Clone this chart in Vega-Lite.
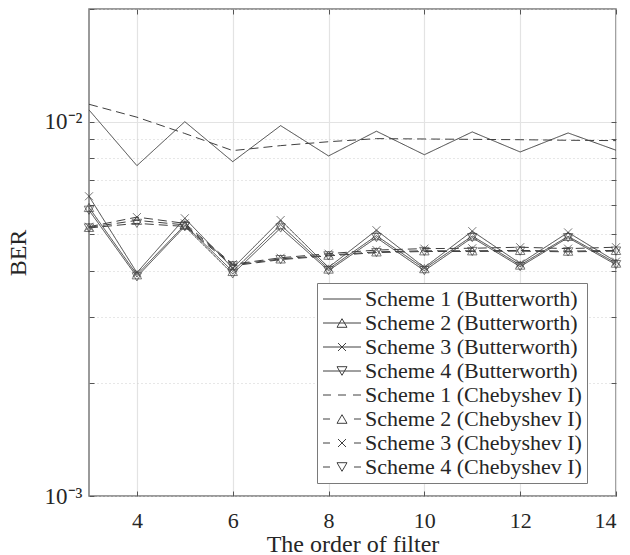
{
  "$schema": "https://vega.github.io/schema/vega-lite/v6.json",
  "width": 527,
  "height": 487,
  "autosize": {"type": "none"},
  "padding": {"left": 89, "top": 9, "right": 14, "bottom": 59},
  "background": "white",
  "config": {
    "view": {"stroke": "#7a7a7a", "strokeWidth": 1.5},
    "font": "Liberation Serif",
    "axis": {"domain": false, "labelFont": "Liberation Serif", "titleFont": "Liberation Serif", "labelColor": "#262626", "titleColor": "#262626", "tickColor": "#555555", "titleFontWeight": "normal"}
  },
  "data": {"values": [
    {"x":3,"ber":0.01075,"series":"Scheme 1 (Butterworth)","filter":"Butterworth","scheme":1},
    {"x":4,"ber":0.00763,"series":"Scheme 1 (Butterworth)","filter":"Butterworth","scheme":1},
    {"x":5,"ber":0.0100,"series":"Scheme 1 (Butterworth)","filter":"Butterworth","scheme":1},
    {"x":6,"ber":0.00782,"series":"Scheme 1 (Butterworth)","filter":"Butterworth","scheme":1},
    {"x":7,"ber":0.00976,"series":"Scheme 1 (Butterworth)","filter":"Butterworth","scheme":1},
    {"x":8,"ber":0.00810,"series":"Scheme 1 (Butterworth)","filter":"Butterworth","scheme":1},
    {"x":9,"ber":0.00943,"series":"Scheme 1 (Butterworth)","filter":"Butterworth","scheme":1},
    {"x":10,"ber":0.00816,"series":"Scheme 1 (Butterworth)","filter":"Butterworth","scheme":1},
    {"x":11,"ber":0.00939,"series":"Scheme 1 (Butterworth)","filter":"Butterworth","scheme":1},
    {"x":12,"ber":0.00830,"series":"Scheme 1 (Butterworth)","filter":"Butterworth","scheme":1},
    {"x":13,"ber":0.00933,"series":"Scheme 1 (Butterworth)","filter":"Butterworth","scheme":1},
    {"x":14,"ber":0.00839,"series":"Scheme 1 (Butterworth)","filter":"Butterworth","scheme":1},
    {"x":3,"ber":0.0059,"series":"Scheme 2 (Butterworth)","filter":"Butterworth","scheme":2},
    {"x":4,"ber":0.0039,"series":"Scheme 2 (Butterworth)","filter":"Butterworth","scheme":2},
    {"x":5,"ber":0.0053,"series":"Scheme 2 (Butterworth)","filter":"Butterworth","scheme":2},
    {"x":6,"ber":0.00398,"series":"Scheme 2 (Butterworth)","filter":"Butterworth","scheme":2},
    {"x":7,"ber":0.0053,"series":"Scheme 2 (Butterworth)","filter":"Butterworth","scheme":2},
    {"x":8,"ber":0.00404,"series":"Scheme 2 (Butterworth)","filter":"Butterworth","scheme":2},
    {"x":9,"ber":0.00496,"series":"Scheme 2 (Butterworth)","filter":"Butterworth","scheme":2},
    {"x":10,"ber":0.00405,"series":"Scheme 2 (Butterworth)","filter":"Butterworth","scheme":2},
    {"x":11,"ber":0.00495,"series":"Scheme 2 (Butterworth)","filter":"Butterworth","scheme":2},
    {"x":12,"ber":0.00414,"series":"Scheme 2 (Butterworth)","filter":"Butterworth","scheme":2},
    {"x":13,"ber":0.00494,"series":"Scheme 2 (Butterworth)","filter":"Butterworth","scheme":2},
    {"x":14,"ber":0.00419,"series":"Scheme 2 (Butterworth)","filter":"Butterworth","scheme":2},
    {"x":3,"ber":0.00632,"series":"Scheme 3 (Butterworth)","filter":"Butterworth","scheme":3},
    {"x":4,"ber":0.00395,"series":"Scheme 3 (Butterworth)","filter":"Butterworth","scheme":3},
    {"x":5,"ber":0.00552,"series":"Scheme 3 (Butterworth)","filter":"Butterworth","scheme":3},
    {"x":6,"ber":0.00406,"series":"Scheme 3 (Butterworth)","filter":"Butterworth","scheme":3},
    {"x":7,"ber":0.00546,"series":"Scheme 3 (Butterworth)","filter":"Butterworth","scheme":3},
    {"x":8,"ber":0.00408,"series":"Scheme 3 (Butterworth)","filter":"Butterworth","scheme":3},
    {"x":9,"ber":0.00513,"series":"Scheme 3 (Butterworth)","filter":"Butterworth","scheme":3},
    {"x":10,"ber":0.00408,"series":"Scheme 3 (Butterworth)","filter":"Butterworth","scheme":3},
    {"x":11,"ber":0.0051,"series":"Scheme 3 (Butterworth)","filter":"Butterworth","scheme":3},
    {"x":12,"ber":0.00418,"series":"Scheme 3 (Butterworth)","filter":"Butterworth","scheme":3},
    {"x":13,"ber":0.00506,"series":"Scheme 3 (Butterworth)","filter":"Butterworth","scheme":3},
    {"x":14,"ber":0.00423,"series":"Scheme 3 (Butterworth)","filter":"Butterworth","scheme":3},
    {"x":3,"ber":0.0058,"series":"Scheme 4 (Butterworth)","filter":"Butterworth","scheme":4},
    {"x":4,"ber":0.00385,"series":"Scheme 4 (Butterworth)","filter":"Butterworth","scheme":4},
    {"x":5,"ber":0.00525,"series":"Scheme 4 (Butterworth)","filter":"Butterworth","scheme":4},
    {"x":6,"ber":0.00392,"series":"Scheme 4 (Butterworth)","filter":"Butterworth","scheme":4},
    {"x":7,"ber":0.0052,"series":"Scheme 4 (Butterworth)","filter":"Butterworth","scheme":4},
    {"x":8,"ber":0.0040,"series":"Scheme 4 (Butterworth)","filter":"Butterworth","scheme":4},
    {"x":9,"ber":0.0049,"series":"Scheme 4 (Butterworth)","filter":"Butterworth","scheme":4},
    {"x":10,"ber":0.0040,"series":"Scheme 4 (Butterworth)","filter":"Butterworth","scheme":4},
    {"x":11,"ber":0.0049,"series":"Scheme 4 (Butterworth)","filter":"Butterworth","scheme":4},
    {"x":12,"ber":0.0041,"series":"Scheme 4 (Butterworth)","filter":"Butterworth","scheme":4},
    {"x":13,"ber":0.0049,"series":"Scheme 4 (Butterworth)","filter":"Butterworth","scheme":4},
    {"x":14,"ber":0.00415,"series":"Scheme 4 (Butterworth)","filter":"Butterworth","scheme":4},
    {"x":3,"ber":0.01113,"series":"Scheme 1 (Chebyshev I)","filter":"Chebyshev I","scheme":1},
    {"x":4,"ber":0.01028,"series":"Scheme 1 (Chebyshev I)","filter":"Chebyshev I","scheme":1},
    {"x":5,"ber":0.0093,"series":"Scheme 1 (Chebyshev I)","filter":"Chebyshev I","scheme":1},
    {"x":6,"ber":0.00837,"series":"Scheme 1 (Chebyshev I)","filter":"Chebyshev I","scheme":1},
    {"x":7,"ber":0.00863,"series":"Scheme 1 (Chebyshev I)","filter":"Chebyshev I","scheme":1},
    {"x":8,"ber":0.00884,"series":"Scheme 1 (Chebyshev I)","filter":"Chebyshev I","scheme":1},
    {"x":9,"ber":0.00901,"series":"Scheme 1 (Chebyshev I)","filter":"Chebyshev I","scheme":1},
    {"x":10,"ber":0.00899,"series":"Scheme 1 (Chebyshev I)","filter":"Chebyshev I","scheme":1},
    {"x":11,"ber":0.00897,"series":"Scheme 1 (Chebyshev I)","filter":"Chebyshev I","scheme":1},
    {"x":12,"ber":0.00895,"series":"Scheme 1 (Chebyshev I)","filter":"Chebyshev I","scheme":1},
    {"x":13,"ber":0.00892,"series":"Scheme 1 (Chebyshev I)","filter":"Chebyshev I","scheme":1},
    {"x":14,"ber":0.0089,"series":"Scheme 1 (Chebyshev I)","filter":"Chebyshev I","scheme":1},
    {"x":3,"ber":0.00522,"series":"Scheme 2 (Chebyshev I)","filter":"Chebyshev I","scheme":2},
    {"x":4,"ber":0.00545,"series":"Scheme 2 (Chebyshev I)","filter":"Chebyshev I","scheme":2},
    {"x":5,"ber":0.0053,"series":"Scheme 2 (Chebyshev I)","filter":"Chebyshev I","scheme":2},
    {"x":6,"ber":0.00414,"series":"Scheme 2 (Chebyshev I)","filter":"Chebyshev I","scheme":2},
    {"x":7,"ber":0.0043,"series":"Scheme 2 (Chebyshev I)","filter":"Chebyshev I","scheme":2},
    {"x":8,"ber":0.0044,"series":"Scheme 2 (Chebyshev I)","filter":"Chebyshev I","scheme":2},
    {"x":9,"ber":0.00449,"series":"Scheme 2 (Chebyshev I)","filter":"Chebyshev I","scheme":2},
    {"x":10,"ber":0.00452,"series":"Scheme 2 (Chebyshev I)","filter":"Chebyshev I","scheme":2},
    {"x":11,"ber":0.00452,"series":"Scheme 2 (Chebyshev I)","filter":"Chebyshev I","scheme":2},
    {"x":12,"ber":0.00453,"series":"Scheme 2 (Chebyshev I)","filter":"Chebyshev I","scheme":2},
    {"x":13,"ber":0.00451,"series":"Scheme 2 (Chebyshev I)","filter":"Chebyshev I","scheme":2},
    {"x":14,"ber":0.00453,"series":"Scheme 2 (Chebyshev I)","filter":"Chebyshev I","scheme":2},
    {"x":3,"ber":0.00524,"series":"Scheme 3 (Chebyshev I)","filter":"Chebyshev I","scheme":3},
    {"x":4,"ber":0.00556,"series":"Scheme 3 (Chebyshev I)","filter":"Chebyshev I","scheme":3},
    {"x":5,"ber":0.00535,"series":"Scheme 3 (Chebyshev I)","filter":"Chebyshev I","scheme":3},
    {"x":6,"ber":0.00416,"series":"Scheme 3 (Chebyshev I)","filter":"Chebyshev I","scheme":3},
    {"x":7,"ber":0.00433,"series":"Scheme 3 (Chebyshev I)","filter":"Chebyshev I","scheme":3},
    {"x":8,"ber":0.00444,"series":"Scheme 3 (Chebyshev I)","filter":"Chebyshev I","scheme":3},
    {"x":9,"ber":0.00454,"series":"Scheme 3 (Chebyshev I)","filter":"Chebyshev I","scheme":3},
    {"x":10,"ber":0.00458,"series":"Scheme 3 (Chebyshev I)","filter":"Chebyshev I","scheme":3},
    {"x":11,"ber":0.00459,"series":"Scheme 3 (Chebyshev I)","filter":"Chebyshev I","scheme":3},
    {"x":12,"ber":0.00462,"series":"Scheme 3 (Chebyshev I)","filter":"Chebyshev I","scheme":3},
    {"x":13,"ber":0.00458,"series":"Scheme 3 (Chebyshev I)","filter":"Chebyshev I","scheme":3},
    {"x":14,"ber":0.00462,"series":"Scheme 3 (Chebyshev I)","filter":"Chebyshev I","scheme":3},
    {"x":3,"ber":0.0052,"series":"Scheme 4 (Chebyshev I)","filter":"Chebyshev I","scheme":4},
    {"x":4,"ber":0.00535,"series":"Scheme 4 (Chebyshev I)","filter":"Chebyshev I","scheme":4},
    {"x":5,"ber":0.00525,"series":"Scheme 4 (Chebyshev I)","filter":"Chebyshev I","scheme":4},
    {"x":6,"ber":0.00412,"series":"Scheme 4 (Chebyshev I)","filter":"Chebyshev I","scheme":4},
    {"x":7,"ber":0.00428,"series":"Scheme 4 (Chebyshev I)","filter":"Chebyshev I","scheme":4},
    {"x":8,"ber":0.00438,"series":"Scheme 4 (Chebyshev I)","filter":"Chebyshev I","scheme":4},
    {"x":9,"ber":0.00447,"series":"Scheme 4 (Chebyshev I)","filter":"Chebyshev I","scheme":4},
    {"x":10,"ber":0.0045,"series":"Scheme 4 (Chebyshev I)","filter":"Chebyshev I","scheme":4},
    {"x":11,"ber":0.0045,"series":"Scheme 4 (Chebyshev I)","filter":"Chebyshev I","scheme":4},
    {"x":12,"ber":0.00451,"series":"Scheme 4 (Chebyshev I)","filter":"Chebyshev I","scheme":4},
    {"x":13,"ber":0.00449,"series":"Scheme 4 (Chebyshev I)","filter":"Chebyshev I","scheme":4},
    {"x":14,"ber":0.00451,"series":"Scheme 4 (Chebyshev I)","filter":"Chebyshev I","scheme":4}
  ]},
  "resolve": {"axis": {"x": "independent", "y": "independent"}},
  "layer": [
    {
      "mark": {"type": "line", "color": "#404040", "strokeWidth": 1},
      "encoding": {
        "x": {"field": "x", "type": "quantitative",
          "scale": {"domain": [3, 14], "nice": false, "zero": false},
          "axis": {"orient": "bottom", "values": [4, 6, 8, 10, 12, 14], "title": "The order of filter",
            "labelFontSize": 22, "titleFontSize": 24, "tickSize": -5, "labelPadding": 19, "titlePadding": 1,
            "grid": true, "gridColor": "#e3e3e3", "gridWidth": 1.2}},
        "y": {"field": "ber", "type": "quantitative",
          "scale": {"type": "log", "domain": [0.001, 0.02], "nice": false},
          "axis": {"orient": "left", "values": [0.001, 0.002, 0.003, 0.004, 0.005, 0.006, 0.007, 0.008, 0.009, 0.01, 0.02],
            "labelExpr": "abs(datum.value-0.01)<1e-9 ? '10⁻²' : (abs(datum.value-0.001)<1e-9 ? '10⁻³' : '')",
            "title": "BER", "labelFontSize": 23, "titleFontSize": 24, "tickSize": -5, "labelPadding": 12, "titlePadding": 14,
            "grid": true,
            "gridColor": {"condition": {"test": "abs(datum.value-0.01)<1e-9", "value": "#e3e3e3"}, "value": "#cfcfcf"},
            "gridDash": {"condition": {"test": "abs(datum.value-0.01)<1e-9", "value": []}, "value": [1, 3]},
            "gridWidth": 1}},
        "detail": {"field": "series"},
        "strokeDash": {"field": "filter", "type": "nominal",
          "scale": {"domain": ["Butterworth", "Chebyshev I"], "range": [[1, 0], [9, 5]]}, "legend": null}
      }
    },
    {
      "transform": [{"filter": "datum.scheme == 2"}],
      "mark": {"type": "point", "shape": "triangle-up", "filled": false, "size": 90, "stroke": "#404040", "strokeWidth": 1},
      "encoding": {
        "x": {"field": "x", "type": "quantitative", "axis": null},
        "y": {"field": "ber", "type": "quantitative", "axis": null}
      }
    },
    {
      "transform": [{"filter": "datum.scheme == 3"}],
      "mark": {"type": "point", "shape": "M-1,-1L1,1M-1,1L1,-1", "filled": false, "size": 64, "stroke": "#404040", "strokeWidth": 1},
      "encoding": {
        "x": {"field": "x", "type": "quantitative", "axis": null},
        "y": {"field": "ber", "type": "quantitative", "axis": null}
      }
    },
    {
      "transform": [{"filter": "datum.scheme == 4"}],
      "mark": {"type": "point", "shape": "triangle-down", "filled": false, "size": 90, "stroke": "#404040", "strokeWidth": 1},
      "encoding": {
        "x": {"field": "x", "type": "quantitative", "axis": null},
        "y": {"field": "ber", "type": "quantitative", "axis": null}
      }
    },
    {
      "transform": [{"filter": "false"}],
      "mark": {"type": "point", "filled": false, "stroke": "#404040", "strokeWidth": 1},
      "encoding": {
        "x": {"field": "x", "type": "quantitative",
          "axis": {"orient": "top", "values": [4, 6, 8, 10, 12, 14], "labels": false, "title": null, "grid": false, "tickSize": -5}},
        "y": {"field": "ber", "type": "quantitative",
          "axis": {"orient": "right", "values": [0.002, 0.003, 0.004, 0.005, 0.006, 0.007, 0.008, 0.009, 0.01], "labels": false, "title": null, "grid": false, "tickSize": -5}},
        "shape": {"field": "series", "type": "nominal",
          "scale": {
            "domain": ["Scheme 1 (Butterworth)", "Scheme 2 (Butterworth)", "Scheme 3 (Butterworth)", "Scheme 4 (Butterworth)", "Scheme 1 (Chebyshev I)", "Scheme 2 (Chebyshev I)", "Scheme 3 (Chebyshev I)", "Scheme 4 (Chebyshev I)"],
            "range": [
              "M-1,0H2.8",
              "M-1,0H2.8M0.9,-0.43L1.4,0.43L0.4,0.43Z",
              "M-1,0H2.8M0.5,-0.4L1.3,0.4M0.5,0.4L1.3,-0.4",
              "M-1,0H2.8M0.9,0.43L1.4,-0.43L0.4,-0.43Z",
              "M-1,0H-0.2M0.5,0H1.3M2,0H2.8",
              "M-1,0H-0.3M2.1,0H2.8M0.9,-0.43L1.4,0.43L0.4,0.43Z",
              "M-1,0H-0.3M2.1,0H2.8M0.5,-0.4L1.3,0.4M0.5,0.4L1.3,-0.4",
              "M-1,0H-0.3M2.1,0H2.8M0.9,0.43L1.4,-0.43L0.4,-0.43Z"
            ]},
          "legend": {"orient": "none", "legendX": 228, "legendY": 274, "title": null,
            "labelFont": "Liberation Serif", "labelFontSize": 22, "labelColor": "#262626", "labelOffset": 21, "labelLimit": 400,
            "symbolSize": 400, "symbolStrokeWidth": 1, "symbolStrokeColor": "#404040", "symbolFillColor": "transparent", "symbolOpacity": 1,
            "padding": 5, "rowPadding": 2, "strokeColor": "#7a7a7a", "fillColor": "white", "cornerRadius": 0}
        }
      }
    }
  ]
}
